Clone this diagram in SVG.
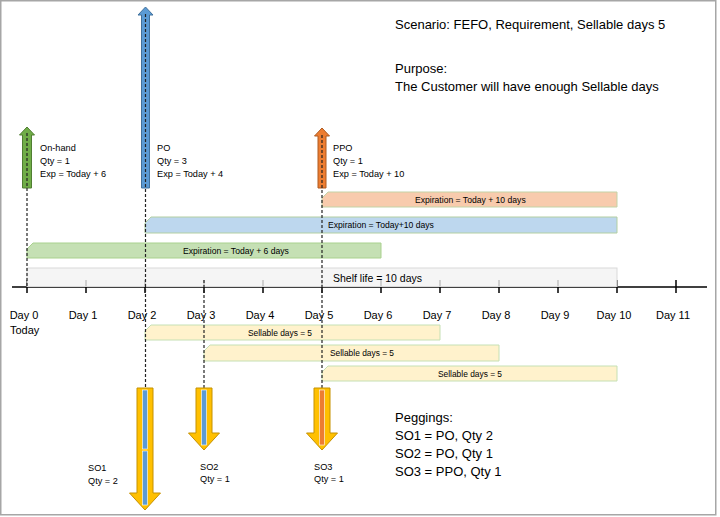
<svg xmlns="http://www.w3.org/2000/svg" width="720" height="517" viewBox="0 0 720 517">
<style>
text{font-family:"Liberation Sans",Arial,sans-serif;fill:#000}
.lbl{font-size:9.2px}
.day{font-size:11px;text-anchor:middle}
.bar{font-size:8.6px}
.big{font-size:13px}
.dash{stroke:#222;stroke-width:1.2;stroke-dasharray:3 2;fill:none}
.tick{stroke:#000;stroke-width:1.5}
.so{fill:#ffc000;stroke:#c59100;stroke-width:1}
</style>
<rect x="0.75" y="0.75" width="715" height="514" fill="#fff" stroke="#a6a6a6" stroke-width="1.5"/>

<g id="axis">
<line x1="12" y1="287" x2="707" y2="287" stroke="#000" stroke-width="1.5"/>
<g class="tick">
<line x1="27" y1="280" x2="27" y2="293"/><line x1="86" y1="280" x2="86" y2="293"/><line x1="145" y1="280" x2="145" y2="293"/><line x1="204" y1="280" x2="204" y2="293"/><line x1="263" y1="280" x2="263" y2="293"/><line x1="322" y1="280" x2="322" y2="293"/><line x1="381" y1="280" x2="381" y2="293"/><line x1="440" y1="280" x2="440" y2="293"/><line x1="499" y1="280" x2="499" y2="293"/><line x1="558" y1="280" x2="558" y2="293"/><line x1="617" y1="280" x2="617" y2="293"/><line x1="676" y1="280" x2="676" y2="293"/>
</g>
<text class="day" x="24" y="319">Day 0</text>
<text class="day" x="83" y="319">Day 1</text>
<text class="day" x="142" y="319">Day 2</text>
<text class="day" x="201" y="319">Day 3</text>
<text class="day" x="260" y="319">Day 4</text>
<text class="day" x="319" y="319">Day 5</text>
<text class="day" x="378" y="319">Day 6</text>
<text class="day" x="437" y="319">Day 7</text>
<text class="day" x="496" y="319">Day 8</text>
<text class="day" x="555" y="319">Day 9</text>
<text class="day" x="614" y="319">Day 10</text>
<text class="day" x="673" y="319">Day 11</text>
<text x="10" y="334" style="font-size:11px">Today</text>
</g>

<g id="shelf-life">
<rect x="27" y="268" width="590" height="18.5" fill="#f2f2f2" fill-opacity="0.8" stroke="#d9d9d9" stroke-width="1"/>
<text x="333" y="281.5" style="font-size:10.5px">Shelf life = 10 days</text>
</g>

<g id="exp-ppo">
<path d="M328,192 H617 V207 H322 V198 Z" fill="#f8cbad" stroke="#c3d3a6" stroke-width="1"/>
<text class="bar" x="415" y="202.5">Expiration = Today + 10 days</text>
</g>
<g id="exp-po">
<path d="M151,217 H617 V233 H145 V223 Z" fill="#bdd7ee" stroke="#b3cfa2" stroke-width="1"/>
<text class="bar" x="328" y="228">Expiration = Today+10 days</text>
</g>
<g id="exp-onhand">
<path d="M33,243 H381 V258 H27 V249 Z" fill="#c5e0b4" stroke="#a9d18e" stroke-width="1"/>
<text class="bar" x="183" y="253.5">Expiration = Today + 6 days</text>
</g>

<g id="sell-so1">
<path d="M151,325 H440 V340 H145 V331 Z" fill="#fff2cc" stroke="#c5e0b4" stroke-width="1"/>
<text class="bar" x="248" y="335.5" style="font-size:8.4px">Sellable days = 5</text>
</g>
<g id="sell-so2">
<path d="M210,345 H499 V361 H204 V351 Z" fill="#fff2cc" stroke="#c5e0b4" stroke-width="1"/>
<text class="bar" x="330" y="356" style="font-size:8.4px">Sellable days = 5</text>
</g>
<g id="sell-so3">
<path d="M328,366 H617 V381 H322 V372 Z" fill="#fff2cc" stroke="#c5e0b4" stroke-width="1"/>
<text class="bar" x="438" y="376.5" style="font-size:8.4px">Sellable days = 5</text>
</g>

<g id="onhand">
<path d="M27,127 L34.5,135 H31.5 V188 H22.5 V135 H19.5 Z" fill="#70ad47" stroke="#507e32" stroke-width="1"/>
<text class="lbl" x="40" y="151">On-hand</text>
<text class="lbl" x="40" y="164">Qty = 1</text>
<text class="lbl" x="40" y="177">Exp = Today + 6</text>
</g>
<g id="po">
<path d="M145.5,7 L153,15 H149.5 V188 H141.5 V15 H138 Z" fill="#5b9bd5" stroke="#41719c" stroke-width="1"/>
<text class="lbl" x="157" y="151">PO</text>
<text class="lbl" x="157" y="164">Qty = 3</text>
<text class="lbl" x="157" y="177">Exp = Today + 4</text>
</g>
<g id="ppo">
<path d="M322,128 L329.5,136 H326 V188 H318 V136 H314.5 Z" fill="#ed7d31" stroke="#ae5a21" stroke-width="1"/>
<text class="lbl" x="333" y="151">PPO</text>
<text class="lbl" x="333" y="164">Qty = 1</text>
<text class="lbl" x="333" y="177">Exp = Today + 10</text>
</g>

<g id="connectors">
<line class="dash" x1="27" y1="133" x2="27" y2="287"/>
<line class="dash" x1="145.5" y1="14" x2="145.5" y2="388"/>
<line class="dash" x1="204" y1="280" x2="204" y2="388"/>
<line class="dash" x1="322" y1="135" x2="322" y2="388"/>
</g>

<g id="so1">
<path class="so" d="M137,388 H153 V493 H160.5 L145,510 L129.5,493 H137 Z"/>
<rect x="142.5" y="390" width="5" height="59" fill="#5b9bd5" stroke="#fff" stroke-width="0.6"/>
<rect x="142.5" y="451" width="5" height="54" fill="#5b9bd5" stroke="#fff" stroke-width="0.6"/>
<text class="lbl" x="88" y="470.5">SO1</text>
<text class="lbl" x="88" y="483.5">Qty = 2</text>
</g>
<g id="so2">
<path class="so" d="M196,388 H212 V433 H219.5 L204,450 L188.5,433 H196 Z"/>
<rect x="201.5" y="390" width="5" height="55" fill="#5b9bd5" stroke="#fff" stroke-width="0.6"/>
<text class="lbl" x="200" y="469.5">SO2</text>
<text class="lbl" x="200" y="482">Qty = 1</text>
</g>
<g id="so3">
<path class="so" d="M314,388 H330 V433 H337.5 L322,450 L306.5,433 H314 Z"/>
<rect x="319.5" y="390" width="5" height="55" fill="#ed7d31" stroke="#fff" stroke-width="0.6"/>
<text class="lbl" x="314" y="469.5">SO3</text>
<text class="lbl" x="314" y="482">Qty = 1</text>
</g>

<g id="scenario">
<text class="big" x="395" y="29">Scenario: FEFO, Requirement, Sellable days 5</text>
<text class="big" x="395" y="72.5">Purpose:</text>
<text class="big" x="395" y="90.5">The Customer will have enough Sellable days</text>
</g>
<g id="peggings">
<text class="big" x="395" y="421.5">Peggings:</text>
<text class="big" x="395" y="439.5">SO1 = PO, Qty 2</text>
<text class="big" x="395" y="457.5">SO2 = PO, Qty 1</text>
<text class="big" x="395" y="475.5">SO3 = PPO, Qty 1</text>
</g>
</svg>
